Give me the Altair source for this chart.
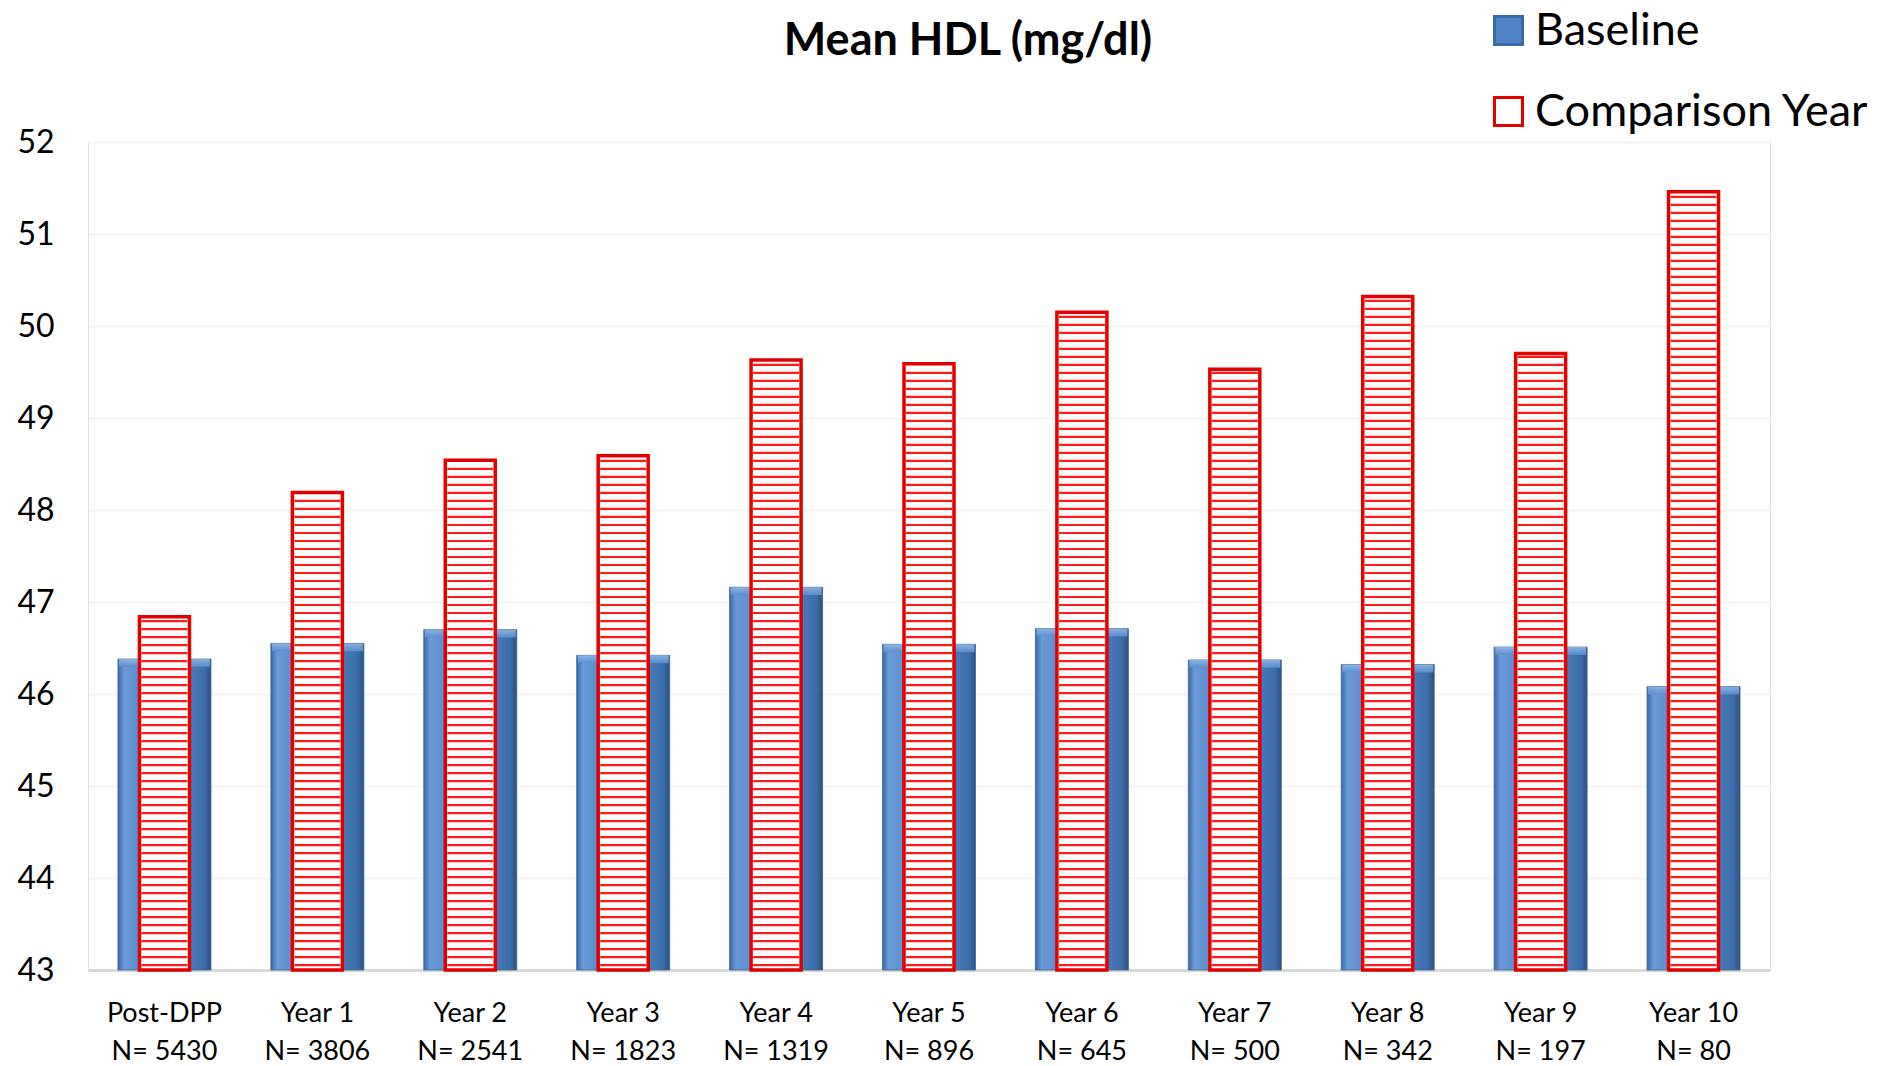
import altair as alt
import pandas as pd

# Visit labels (two lines each) and group means of HDL cholesterol
visits = ["Post-DPP", "Year 1", "Year 2", "Year 3", "Year 4", "Year 5",
          "Year 6", "Year 7", "Year 8", "Year 9", "Year 10"]
counts = ["N= 5430", "N= 3806", "N= 2541", "N= 1823", "N= 1319", "N= 896",
          "N= 645", "N= 500", "N= 342", "N= 197", "N= 80"]
baseline = [46.38, 46.55, 46.70, 46.42, 47.16, 46.54, 46.71, 46.37, 46.32, 46.51, 46.08]
comparison = [46.84, 48.19, 48.54, 48.59, 49.63, 49.59, 50.15, 49.53, 50.32, 49.70, 51.46]

series_names = ["Baseline", "Comparison Year"]
y_ticks = list(range(43, 53))

cats = [f"{v}|{n}" for v, n in zip(visits, counts)]

df = pd.DataFrame({"cat": cats, "Baseline": baseline, "Comparison Year": comparison})
long_df = df.melt(id_vars="cat", var_name="series", value_name="value")

# horizontal hatching inside the comparison bars (pattern spacing in data units)
hatch_step = 0.087
hatch_rows = []
for c, v in zip(cats, comparison):
    y = 43 + hatch_step * 0.6
    while y < v - hatch_step * 0.4:
        hatch_rows.append({"cat": c, "y": y})
        y += hatch_step
hatch_df = pd.DataFrame(hatch_rows)

FONT = "Lato"

x_enc = alt.X(
    "cat:N", sort=cats, title=None,
    scale=alt.Scale(paddingInner=0, paddingOuter=0),
    axis=alt.Axis(
        labelExpr="split(datum.label, '|')", labelAngle=0, labelFontSize=27,
        labelFont=FONT, labelColor="#000000", labelPadding=30, labelLineHeight=38,
        ticks=False, domainColor="#d9d9d9", domainWidth=3, labelBaseline="top",
    ),
)
y_scale = alt.Scale(domain=[43, 52], nice=False, zero=False)
y_axis = alt.Axis(
    values=y_ticks, format="d", labelFontSize=32, labelFont=FONT, labelColor="#000000",
    labelPadding=34, ticks=False, domain=False, gridColor="#f1f1f1", gridWidth=1.5,
)

blue_fill = alt.Gradient(
    gradient="linear", x1=0, x2=1, y1=0, y2=0,
    stops=[
        alt.GradientStop(offset=0.0, color="#3a6aa6"),
        alt.GradientStop(offset=0.07, color="#6b9bd8"),
        alt.GradientStop(offset=0.3, color="#5489cb"),
        alt.GradientStop(offset=0.75, color="#4a7ec0"),
        alt.GradientStop(offset=0.93, color="#3d6da9"),
        alt.GradientStop(offset=1.0, color="#2a5282"),
    ],
)
bevel_fill = alt.Gradient(
    gradient="linear", x1=0, x2=0, y1=0, y2=1,
    stops=[
        alt.GradientStop(offset=0.0, color="#8fb6e6"),
        alt.GradientStop(offset=1.0, color="#5d8fce"),
    ],
)

base_bars = alt.Chart(df).mark_bar(size=93, fill=blue_fill, stroke="#3a6393", strokeWidth=0.8).encode(
    x=x_enc,
    y=alt.Y("Baseline:Q", scale=y_scale, axis=y_axis, title=None),
    y2=alt.datum(43),
)

# light bevel along the top edge of each baseline bar
bevel = alt.Chart(df).transform_calculate(
    bevel_low="datum.Baseline - 0.085"
).mark_bar(size=91, fill=bevel_fill, opacity=0.9).encode(
    x=alt.X("cat:N", sort=cats),
    y=alt.Y("Baseline:Q"),
    y2=alt.Y2("bevel_low:Q"),
)

comp_bars = alt.Chart(df).mark_bar(size=50, fill="#ffffff", stroke="#e50000", strokeWidth=3.5).encode(
    x=alt.X("cat:N", sort=cats),
    y=alt.Y("Comparison Year:Q"),
    y2=alt.datum(43),
)

hatch = alt.Chart(hatch_df).mark_tick(
    orient="horizontal", size=46, thickness=2.2, color="#ff1a1a", opacity=1
).encode(
    x=alt.X("cat:N", sort=cats),
    y=alt.Y("y:Q"),
)

legend_layer = alt.Chart(long_df).mark_point(
    shape="square", filled=True, size=0, strokeWidth=0, opacity=1
).encode(
    x=alt.X("cat:N", sort=cats),
    y=alt.Y("value:Q"),
    fill=alt.Fill(
        "series:N", sort=series_names,
        scale=alt.Scale(domain=series_names, range=["#4f83c6", "#ffffff"]),
        legend=alt.Legend(
            title=None, orient="none", legendX=1398, legendY=-134, padding=0,
            symbolType="square", symbolSize=784, symbolStrokeWidth=3,
            labelFont=FONT, labelFontSize=45, labelColor="#000000", labelOffset=4,
            rowPadding=35, symbolOpacity=1, labelLimit=0,
        ),
    ),
    stroke=alt.Stroke(
        "series:N", sort=series_names,
        scale=alt.Scale(domain=series_names, range=["#3a6aa6", "#e50000"]),
    ),
)

chart = alt.layer(base_bars, bevel, comp_bars, hatch, legend_layer).properties(
    width=1682,
    height=828,
    autosize=alt.AutoSizeParams(type="none"),
    padding={"left": 88, "top": 142, "right": 121, "bottom": 96},
    title=alt.TitleParams(
        "Mean HDL (mg/dl)", font=FONT, fontSize=45, fontWeight="bold", color="#000000",
        anchor="middle", dx=39, dy=92, offset=0, baseline="alphabetic", frame="group",
    ),
).configure_view(strokeWidth=0).configure(background="#ffffff")

chart.save("out.html", embed_options={"renderer": "svg", "actions": False})
